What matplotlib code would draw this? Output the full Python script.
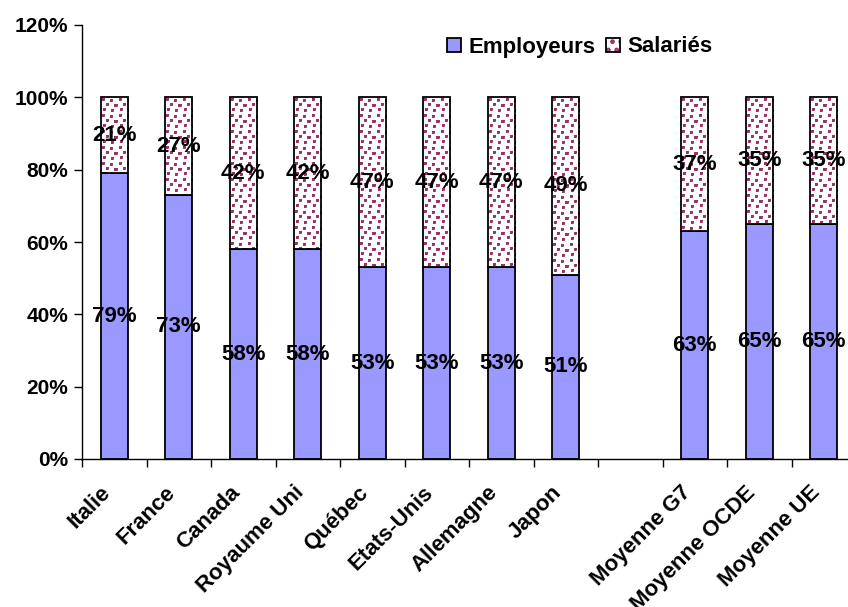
import matplotlib
matplotlib.use("Agg")
import matplotlib.pyplot as plt
import numpy as np
from matplotlib.patches import Patch
from matplotlib.legend_handler import HandlerTuple

plt.rcParams['font.family'] = ['Liberation Sans', 'DejaVu Sans']
plt.rcParams['hatch.linewidth'] = 2.2

categories = ["Italie", "France", "Canada", "Royaume Uni", "Québec", "Etats-Unis",
              "Allemagne", "Japon", "", "Moyenne G7", "Moyenne OCDE", "Moyenne UE"]
employeurs = [79, 73, 58, 58, 53, 53, 53, 51, None, 63, 65, 65]
salaries = [21, 27, 42, 42, 47, 47, 47, 49, None, 37, 35, 35]
yticks = [0, 20, 40, 60, 80, 100, 120]

blue = "#9999FF"
maroon = "#993366"
dot_dark = np.array([0x99, 0x33, 0x66]) / 255.0
dot_soft = np.array([0xB5, 0x6A, 0x92]) / 255.0

DPI = 100
FIG_W, FIG_H = 848, 607
AX_L, AX_R, AX_T, AX_B = 82, 856, 25, 459
YMAX = 120

# confetti tile: (row, col) of each dot inside a 16 x 16 pixel cell
CONFETTI = [(1, 1), (2, 9), (6, 5), (7, 13), (11, 2), (12, 10)]


def dot_texture(h_px, w_px):
    """Small maroon squares scattered on white."""
    tile = np.ones((16, 16, 3))
    for r, c in CONFETTI:
        for dr in range(3):
            for dc in range(3):
                col = dot_soft if (dr == 2 and dc == 2) else dot_dark
                tile[(r + dr) % 16, (c + dc) % 16] = col
    reps_y = h_px // 16 + 1
    reps_x = w_px // 16 + 1
    return np.tile(tile, (reps_y, reps_x, 1))[:h_px, :w_px]


fig = plt.figure(figsize=(FIG_W / DPI, FIG_H / DPI), dpi=DPI)
ax = fig.add_axes([AX_L / FIG_W, 1 - AX_B / FIG_H,
                   (AX_R - AX_L) / FIG_W, (AX_B - AX_T) / FIG_H])

n = len(categories)
px_x = (AX_R - AX_L) / n
px_y = (AX_B - AX_T) / YMAX

x = np.arange(n) + 0.5
w = 0.42
for xi, e, s in zip(x, employeurs, salaries):
    if e is None:
        continue
    ax.bar(xi, e, width=w, color=blue, edgecolor="black", linewidth=1.3, zorder=2)
    # dotted texture for the upper segment, then its black outline
    tex = dot_texture(int(round(s * px_y)), int(round(w * px_x)))
    ax.imshow(tex, extent=(xi - w / 2, xi + w / 2, e, e + s), origin="upper",
              interpolation="nearest", aspect="auto", zorder=2)
    ax.bar(xi, s, bottom=e, width=w, fill=False, edgecolor="black",
           linewidth=1.3, zorder=3)
    ax.text(xi, e / 2, f"{e}%", ha="center", va="center", fontsize=16,
            fontweight="bold", zorder=4)
    ax.text(xi, e + s / 2, f"{s}%", ha="center", va="center", fontsize=16,
            fontweight="bold", zorder=4)

ax.set_xlim(0, n)
ax.set_ylim(0, YMAX)
ax.set_yticks(yticks)
ax.set_yticklabels([f"{t}%" for t in yticks], fontsize=15, fontweight="bold")
ax.set_xticks(np.arange(n + 1))
ax.set_xticklabels([])
ax.tick_params(axis="y", length=6, width=1, direction="out", pad=4)
ax.tick_params(axis="x", length=6, width=1, direction="out")
for xi, c in zip(x, categories):
    if c:
        ax.text(xi - 0.22, -6.4, c, rotation=45, ha="right", va="top",
                rotation_mode="anchor", fontsize=16, fontweight="bold")
for side in ("top", "right"):
    ax.spines[side].set_visible(False)
ax.spines["left"].set_linewidth(1)
ax.spines["bottom"].set_linewidth(1)

h_emp = Patch(facecolor=blue, edgecolor="black", linewidth=1.3)
h_sal = (Patch(facecolor="white", edgecolor=maroon, hatch="..", linewidth=0),
         Patch(fill=False, edgecolor="black", linewidth=1.3))
fig.legend([h_emp, h_sal], ["Employeurs", "Salariés"], loc="center",
           bbox_to_anchor=(580 / FIG_W, 1 - 47 / FIG_H), ncol=2, frameon=False,
           prop={"size": 16, "weight": "bold"},
           handler_map={tuple: HandlerTuple(ndivide=1, pad=0)},
           handlelength=0.6, handleheight=0.6, handletextpad=0.35,
           columnspacing=0.5)

fig.savefig("out.png", dpi=DPI)
